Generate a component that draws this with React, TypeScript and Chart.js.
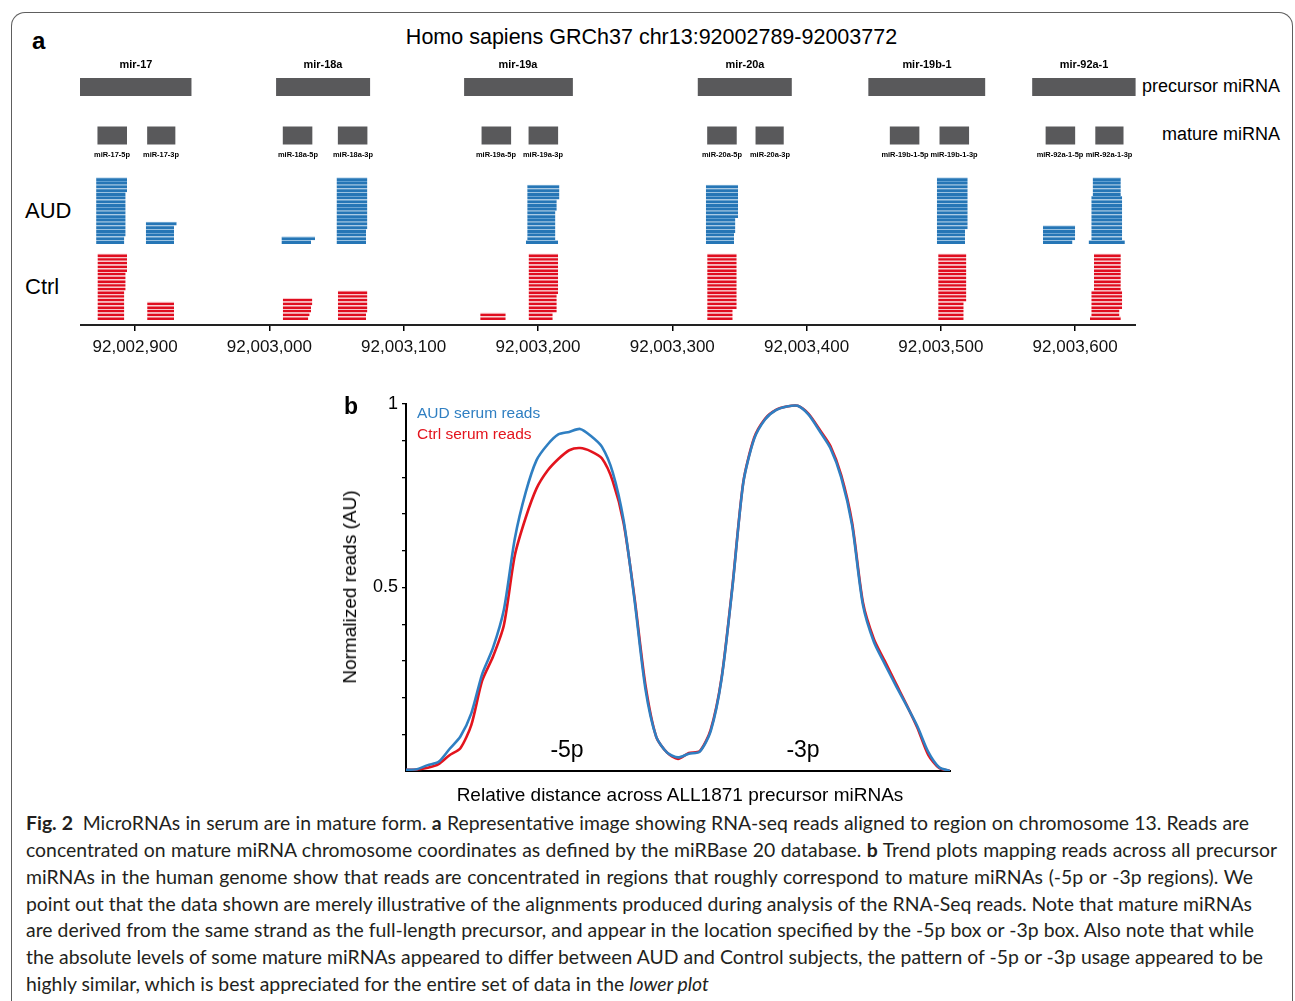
import React, { useEffect, useLayoutEffect, useRef } from 'react';
import { Chart, registerables } from 'chart.js';

Chart.register(...registerables);

const FONT = '"Liberation Sans", Arial, Helvetica, sans-serif';
const CAPTION_FONT = 'Lato, "Open Sans", sans-serif';

// ---------------- Panel a : genome track (chr13) ----------------
const REGION_TITLE = 'Homo sapiens GRCh37 chr13:92002789-92003772';
const AXIS_MIN = 92002859;
const AXIS_MAX = 92003645.3;
const GENOME_TICKS = [92002900, 92003000, 92003100, 92003200, 92003300, 92003400, 92003500, 92003600];

const PRECURSOR_NAMES = ['mir-17', 'mir-18a', 'mir-19a', 'mir-20a', 'mir-19b-1', 'mir-92a-1'];
const PRECURSOR_START = [92002859, 92003005, 92003145, 92003319, 92003446, 92003568];
const PRECURSOR_END = [92002942, 92003075, 92003226, 92003389, 92003533, 92003645];

const MATURE_NAMES = [
  'miR-17-5p', 'miR-17-3p', 'miR-18a-5p', 'miR-18a-3p', 'miR-19a-5p', 'miR-19a-3p',
  'miR-20a-5p', 'miR-20a-3p', 'miR-19b-1-5p', 'miR-19b-1-3p', 'miR-92a-1-5p', 'miR-92a-1-3p',
];
const MATURE_START = [92002872, 92002909, 92003010, 92003051, 92003158, 92003193, 92003326, 92003362, 92003462, 92003499, 92003578, 92003615];
const MATURE_END = [92002894, 92002930, 92003032, 92003073, 92003180, 92003215, 92003348, 92003383, 92003484, 92003521, 92003600, 92003636];

// Reads, listed bottom lane first: [start, end]
const AUD_MIR17_5P = [
  [92002871, 92002892], [92002871, 92002892], [92002871, 92002893], [92002871, 92002893],
  [92002871, 92002893], [92002871, 92002893], [92002871, 92002893], [92002871, 92002893],
  [92002871, 92002893], [92002871, 92002893], [92002871, 92002893], [92002871, 92002893],
  [92002871, 92002893], [92002871, 92002893], [92002871, 92002894], [92002871, 92002894],
  [92002871, 92002894], [92002871, 92002894],
];
const AUD_MIR17_3P = [
  [92002908, 92002929], [92002908, 92002929], [92002908, 92002929], [92002908, 92002929],
  [92002908, 92002929], [92002908, 92002931],
];
const AUD_MIR18A_5P = [[92003009, 92003031], [92003009, 92003034]];
const AUD_MIR18A_3P = [
  [92003050, 92003072], [92003050, 92003072], [92003050, 92003072], [92003050, 92003072],
  [92003050, 92003073], [92003050, 92003073], [92003050, 92003073], [92003050, 92003073],
  [92003050, 92003073], [92003050, 92003073], [92003050, 92003073], [92003050, 92003073],
  [92003050, 92003073], [92003050, 92003073], [92003050, 92003073], [92003050, 92003073],
  [92003050, 92003073], [92003050, 92003073],
];
const AUD_MIR19A_3P = [
  [92003191, 92003215], [92003192, 92003213], [92003192, 92003213], [92003192, 92003213],
  [92003192, 92003213], [92003192, 92003213], [92003192, 92003213], [92003192, 92003213],
  [92003192, 92003213], [92003192, 92003214], [92003192, 92003214], [92003192, 92003214],
  [92003192, 92003216], [92003192, 92003216], [92003192, 92003216], [92003192, 92003216],
];
const AUD_MIR20A_5P = [
  [92003325, 92003346], [92003325, 92003346], [92003325, 92003346], [92003325, 92003347],
  [92003325, 92003347], [92003325, 92003347], [92003325, 92003347], [92003325, 92003349],
  [92003325, 92003349], [92003325, 92003349], [92003325, 92003349], [92003325, 92003349],
  [92003325, 92003349], [92003325, 92003349], [92003325, 92003349], [92003325, 92003349],
];
const AUD_MIR19B1_3P = [
  [92003497, 92003518], [92003497, 92003518], [92003497, 92003518], [92003497, 92003518],
  [92003497, 92003520], [92003497, 92003520], [92003497, 92003520], [92003497, 92003520],
  [92003497, 92003520], [92003497, 92003520], [92003497, 92003520], [92003497, 92003520],
  [92003497, 92003520], [92003497, 92003520], [92003497, 92003520], [92003497, 92003520],
  [92003497, 92003520], [92003497, 92003520],
];
const AUD_MIR92A1_5P = [
  [92003576, 92003598], [92003576, 92003600], [92003576, 92003600], [92003576, 92003600],
  [92003576, 92003600],
];
const AUD_MIR92A1_3P = [
  [92003610, 92003637], [92003612, 92003635], [92003612, 92003635], [92003612, 92003635],
  [92003612, 92003635], [92003612, 92003635], [92003612, 92003635], [92003612, 92003635],
  [92003612, 92003635], [92003612, 92003635], [92003612, 92003635], [92003612, 92003635],
  [92003612, 92003635], [92003613, 92003634], [92003613, 92003634], [92003613, 92003634],
  [92003613, 92003634], [92003613, 92003634],
];

const CTRL_MIR17_5P = [
  [92002872, 92002892], [92002872, 92002892], [92002872, 92002892], [92002872, 92002892],
  [92002872, 92002892], [92002872, 92002892], [92002872, 92002892], [92002872, 92002892],
  [92002872, 92002893], [92002872, 92002893], [92002872, 92002893], [92002872, 92002893],
  [92002872, 92002893], [92002872, 92002894], [92002872, 92002894], [92002872, 92002894],
  [92002872, 92002894], [92002872, 92002894],
];
const CTRL_MIR17_3P = [
  [92002909, 92002929], [92002909, 92002929], [92002909, 92002929], [92002909, 92002929],
  [92002909, 92002929],
];
const CTRL_MIR18A_5P = [
  [92003010, 92003029], [92003010, 92003030], [92003010, 92003031], [92003010, 92003031],
  [92003010, 92003032], [92003010, 92003032],
];
const CTRL_MIR18A_3P = [
  [92003051, 92003072], [92003051, 92003072], [92003051, 92003073], [92003051, 92003073],
  [92003051, 92003073], [92003051, 92003073], [92003051, 92003073], [92003051, 92003073],
];
const CTRL_MIR19A_5P = [[92003157, 92003176], [92003157, 92003176]];
const CTRL_MIR19A_3P = [
  [92003193, 92003211], [92003193, 92003211], [92003193, 92003214], [92003193, 92003214],
  [92003193, 92003214], [92003193, 92003214], [92003193, 92003214], [92003193, 92003215],
  [92003193, 92003215], [92003193, 92003215], [92003193, 92003215], [92003193, 92003215],
  [92003193, 92003215], [92003193, 92003215], [92003193, 92003215], [92003193, 92003215],
  [92003193, 92003215], [92003193, 92003215],
];
const CTRL_MIR20A_5P = [
  [92003326, 92003345], [92003326, 92003345], [92003326, 92003345], [92003326, 92003348],
  [92003326, 92003348], [92003326, 92003348], [92003326, 92003348], [92003326, 92003348],
  [92003326, 92003348], [92003326, 92003348], [92003326, 92003348], [92003326, 92003348],
  [92003326, 92003348], [92003326, 92003348], [92003326, 92003348], [92003326, 92003348],
  [92003326, 92003348], [92003326, 92003348],
];
const CTRL_MIR19B1_3P = [
  [92003498, 92003517], [92003498, 92003517], [92003498, 92003517], [92003498, 92003517],
  [92003498, 92003517], [92003498, 92003519], [92003498, 92003519], [92003498, 92003519],
  [92003498, 92003519], [92003498, 92003519], [92003498, 92003519], [92003498, 92003519],
  [92003498, 92003519], [92003498, 92003519], [92003498, 92003519], [92003498, 92003519],
  [92003498, 92003519], [92003498, 92003519],
];
const CTRL_MIR92A1_3P = [
  [92003611, 92003634], [92003612, 92003633], [92003612, 92003633], [92003612, 92003635],
  [92003612, 92003635], [92003612, 92003635], [92003612, 92003635], [92003612, 92003635],
  [92003614, 92003634], [92003614, 92003634], [92003614, 92003634], [92003614, 92003634],
  [92003614, 92003634], [92003614, 92003634], [92003614, 92003634], [92003614, 92003634],
  [92003614, 92003634], [92003614, 92003634],
];

const AUD_STACKS = [AUD_MIR17_5P, AUD_MIR17_3P, AUD_MIR18A_5P, AUD_MIR18A_3P, AUD_MIR19A_3P, AUD_MIR20A_5P, AUD_MIR19B1_3P, AUD_MIR92A1_5P, AUD_MIR92A1_3P];
const CTRL_STACKS = [CTRL_MIR17_5P, CTRL_MIR17_3P, CTRL_MIR18A_5P, CTRL_MIR18A_3P, CTRL_MIR19A_5P, CTRL_MIR19A_3P, CTRL_MIR20A_5P, CTRL_MIR19B1_3P, CTRL_MIR92A1_3P];

// ---------------- Panel b : trend plot ----------------
const DISTANCE = [0, 2, 4, 6, 8, 10, 12, 14, 16, 18, 20, 22, 24, 26, 28, 30, 32, 34, 36, 38, 40, 42, 44, 46, 48, 50, 52, 54, 56, 58, 60, 62, 64, 66, 68, 70, 72, 74, 76, 78, 80, 82, 84, 86, 88, 90, 92, 94, 96, 98, 100];
const AUD_PROFILE = [0.003, 0.005, 0.016, 0.025, 0.060, 0.094, 0.157, 0.264, 0.336, 0.440, 0.633, 0.759, 0.847, 0.889, 0.917, 0.924, 0.932, 0.913, 0.884, 0.814, 0.683, 0.467, 0.225, 0.093, 0.050, 0.037, 0.047, 0.053, 0.108, 0.250, 0.500, 0.785, 0.905, 0.958, 0.983, 0.993, 0.995, 0.971, 0.927, 0.880, 0.800, 0.670, 0.452, 0.352, 0.292, 0.234, 0.179, 0.122, 0.052, 0.010, 0.000];
const CTRL_PROFILE = [0.003, 0.004, 0.009, 0.019, 0.043, 0.062, 0.125, 0.246, 0.312, 0.398, 0.587, 0.690, 0.770, 0.818, 0.850, 0.874, 0.880, 0.871, 0.852, 0.790, 0.676, 0.473, 0.236, 0.093, 0.050, 0.033, 0.049, 0.054, 0.112, 0.253, 0.503, 0.787, 0.908, 0.960, 0.984, 0.993, 0.995, 0.973, 0.931, 0.886, 0.806, 0.677, 0.459, 0.360, 0.300, 0.240, 0.181, 0.118, 0.044, 0.008, 0.000];
const Y_TICKS = [0.1, 0.2, 0.3, 0.4, 0.5, 0.6, 0.7, 0.8, 0.9, 1];
const Y_TICK_LABELS: Record<string, string> = { '0.5': '0.5', '1': '1' };

// ---------------- layout (not data) ----------------
const A_LEFT = 80, A_TOP = 60, A_WIDTH = 1056, A_HEIGHT = 305, A_PAD_TOP = 10, A_AXIS_H = 40;
const TRACK_RANGE = 255;
const PRE_ROW = 238, MAT_ROW = 189.5, AUD_BASE = 81, CTRL_BASE = 5, LANE = 3.7;
const B_LEFT = 346, B_TOP = 388, B_WIDTH = 608, B_HEIGHT = 399;

const AUD_COLOR = '#2f7fc2';
const CTRL_COLOR = '#e3141d';

const gx = (g: number) => A_LEFT + ((g - AXIS_MIN) / (AXIS_MAX - AXIS_MIN)) * A_WIDTH;

function TrackChart() {
  const ref = useRef<HTMLCanvasElement | null>(null);
  useEffect(() => {
    if (!ref.current) return;
    const common = {
      grouped: false,
      barPercentage: 100,
      categoryPercentage: 1,
      borderSkipped: false,
      inflateAmount: 0,
    };
    const blockSet = (starts: number[], ends: number[], row: number) => ({
      ...common,
      data: starts.map((s, i) => ({ x: [s, ends[i]], y: row })),
      backgroundColor: '#59595b',
      borderWidth: 0,
      barThickness: 18,
      maxBarThickness: 18,
    });
    const readSet = (reads: number[][], base: number, fill: string, sepColor: string, sep: number) => ({
      ...common,
      data: reads.map((r, k) => ({ x: [r[0], r[1]], y: base + LANE * (k + 0.5) })),
      backgroundColor: fill,
      borderColor: sepColor,
      borderWidth: { top: sep, right: 0, bottom: 0, left: 0 },
      barThickness: LANE,
      maxBarThickness: LANE,
    });
    const datasets: any[] = [
      blockSet(PRECURSOR_START, PRECURSOR_END, PRE_ROW),
      blockSet(MATURE_START, MATURE_END, MAT_ROW),
      ...AUD_STACKS.map((s) => readSet(s, AUD_BASE, '#2676b6', '#5f9fd2', 0.8)),
      ...CTRL_STACKS.map((s) => readSet(s, CTRL_BASE, '#e00d1f', '#f8c6ca', 1.2)),
    ];
    const chart = new Chart(ref.current, {
      type: 'bar',
      data: { datasets },
      options: {
        indexAxis: 'y',
        animation: false,
        responsive: false,
        devicePixelRatio: 1,
        layout: { padding: { top: A_PAD_TOP, left: 0, right: 0, bottom: 0 } },
        plugins: { legend: { display: false }, tooltip: { enabled: false } },
        scales: {
          x: {
            type: 'linear',
            position: 'bottom',
            min: AXIS_MIN,
            max: AXIS_MAX,
            afterBuildTicks: (s: any) => { s.ticks = GENOME_TICKS.map((v) => ({ value: v })); },
            afterFit: (s: any) => { s.height = A_AXIS_H; },
            ticks: {
              autoSkip: false,
              maxRotation: 0,
              padding: 6,
              color: '#111',
              font: { family: FONT, size: 17 },
              callback: (v: any) => Number(v).toLocaleString('en-US'),
            },
            grid: { display: true, drawOnChartArea: false, drawTicks: true, tickLength: 6, color: '#000', lineWidth: 1.5 },
            border: { display: true, color: '#222', width: 2 },
          },
          y: {
            type: 'linear',
            display: false,
            min: 0,
            max: TRACK_RANGE,
            offset: false,
            grid: { offset: false },
          },
        },
      } as any,
    });
    return () => chart.destroy();
  }, []);
  return (
    <canvas
      ref={ref}
      width={A_WIDTH}
      height={A_HEIGHT}
      style={{ position: 'absolute', left: A_LEFT, top: A_TOP, width: A_WIDTH, height: A_HEIGHT }}
    />
  );
}

function ProfileChart() {
  const ref = useRef<HTMLCanvasElement | null>(null);
  useEffect(() => {
    if (!ref.current) return;
    const chart = new Chart(ref.current, {
      type: 'line',
      data: {
        datasets: [
          {
            label: 'AUD serum reads',
            data: DISTANCE.map((x, i) => ({ x, y: AUD_PROFILE[i] })),
            borderColor: AUD_COLOR,
            borderWidth: 2.6,
            pointRadius: 0,
            tension: 0.25,
            fill: false,
          },
          {
            label: 'Ctrl serum reads',
            data: DISTANCE.map((x, i) => ({ x, y: CTRL_PROFILE[i] })),
            borderColor: CTRL_COLOR,
            borderWidth: 2.6,
            pointRadius: 0,
            tension: 0.25,
            fill: false,
          },
        ],
      },
      options: {
        animation: false,
        responsive: false,
        devicePixelRatio: 1,
        layout: { padding: { top: 16, right: 4, bottom: 14, left: 0 } },
        plugins: { legend: { display: false }, tooltip: { enabled: false } },
        scales: {
          x: {
            type: 'linear',
            min: 0,
            max: 100,
            ticks: { display: false },
            grid: { display: false, drawTicks: false },
            border: { display: true, color: '#000', width: 2 },
            afterFit: (s: any) => { s.height = 2; },
          },
          y: {
            type: 'linear',
            min: 0,
            max: 1,
            afterBuildTicks: (s: any) => { s.ticks = Y_TICKS.map((v) => ({ value: v })); },
            afterFit: (s: any) => { s.width = 60; },
            ticks: {
              autoSkip: false,
              padding: 4,
              color: '#000',
              font: { family: FONT, size: 18 },
              callback: (v: any) => Y_TICK_LABELS[String(v)] ?? '',
            },
            grid: { display: true, drawOnChartArea: false, drawTicks: true, tickLength: 4, color: '#000', lineWidth: 1.3 },
            border: { display: true, color: '#000', width: 2 },
          },
        },
      } as any,
    });
    return () => chart.destroy();
  }, []);
  return (
    <canvas
      ref={ref}
      width={B_WIDTH}
      height={B_HEIGHT}
      style={{ position: 'absolute', left: B_LEFT, top: B_TOP, width: B_WIDTH, height: B_HEIGHT }}
    />
  );
}

type TP = {
  x: number; y: number; size: number; anchor?: 'left' | 'center' | 'right';
  bold?: boolean; color?: string; family?: string; squeeze?: number; children: React.ReactNode;
};
function T({ x, y, size, anchor = 'left', bold, color = '#000', family = FONT, squeeze = 1, children }: TP) {
  const lh = Math.round(size * 1.3);
  const tx = anchor === 'center' ? 'translateX(-50%)' : anchor === 'right' ? 'translateX(-100%)' : '';
  const sx = squeeze !== 1 ? ` scaleX(${squeeze})` : '';
  const origin = anchor === 'center' ? '50% 50%' : anchor === 'right' ? '100% 50%' : '0 50%';
  return (
    <div
      style={{
        position: 'absolute', left: x, top: y - lh / 2, lineHeight: lh + 'px', fontSize: size,
        fontFamily: family, fontWeight: bold ? 700 : 400, color, whiteSpace: 'nowrap',
        transform: (tx + sx).trim() || 'none', transformOrigin: origin,
      }}
    >
      {children}
    </div>
  );
}

function CaptionLine({ cy, width, children }: { cy: number; width?: number; children: React.ReactNode }) {
  const ref = useRef<HTMLDivElement | null>(null);
  useLayoutEffect(() => {
    const el = ref.current;
    if (!el || !width) return;
    const fit = () => {
      el.style.wordSpacing = '0px';
      const natural = el.getBoundingClientRect().width;
      const spaces = ((el.textContent || '').match(/ /g) || []).length;
      if (spaces) el.style.wordSpacing = (width - natural) / spaces + 'px';
    };
    fit();
    const f = (document as any).fonts;
    if (f && f.ready) f.ready.then(fit);
  }, [width]);
  return (
    <div
      ref={ref}
      style={{
        position: 'absolute', left: 26, top: cy - 13, lineHeight: '26px', fontSize: 19.4,
        fontFamily: CAPTION_FONT, color: '#231f20', whiteSpace: 'nowrap',
      }}
    >
      {children}
    </div>
  );
}

export default function App() {
  return (
    <div
      style={{
        position: 'absolute', left: 0, top: 0, width: 1295, height: 1001, overflow: 'hidden',
        background: '#fff', fontFamily: FONT,
      }}
    >
      <div
        style={{
          position: 'absolute', left: 11, top: 12, width: 1282, height: 1100,
          borderTop: '1.5px solid #5e5e5e', borderLeft: '1.5px solid #5e5e5e', borderRight: '1.5px solid #5e5e5e',
          borderTopLeftRadius: 14, borderTopRightRadius: 14, boxSizing: 'border-box',
        }}
      />
      <TrackChart />
      <ProfileChart />

      {/* panel a texts */}
      <T x={32} y={40} size={24} bold>a</T>
      <T x={651.5} y={37} size={21.5} anchor="center">{REGION_TITLE}</T>
      {PRECURSOR_NAMES.map((n, i) => (
        <T key={n} x={(gx(PRECURSOR_START[i]) + gx(PRECURSOR_END[i])) / 2} y={64.5} size={11.5} bold anchor="center" squeeze={0.95}>{n}</T>
      ))}
      {MATURE_NAMES.map((n, i) => (
        <T key={n} x={(gx(MATURE_START[i]) + gx(MATURE_END[i])) / 2} y={155} size={8} bold anchor="center" squeeze={0.93}>{n}</T>
      ))}
      <T x={1142} y={86} size={18}>precursor miRNA</T>
      <T x={1162} y={134} size={18}>mature miRNA</T>
      <T x={25} y={210} size={22}>AUD</T>
      <T x={25} y={286} size={22}>Ctrl</T>

      {/* panel b texts */}
      <T x={344} y={406} size={23} bold>b</T>
      <T x={417} y={413} size={15.5} color={AUD_COLOR}>AUD serum reads</T>
      <T x={417} y={434} size={15.5} color={CTRL_COLOR}>Ctrl serum reads</T>
      <T x={567} y={749} size={23} anchor="center">-5p</T>
      <T x={803} y={749} size={23} anchor="center">-3p</T>
      <div
        style={{
          position: 'absolute', left: 350, top: 587, transform: 'translate(-50%, -50%) rotate(-90deg)',
          fontSize: 19, fontFamily: FONT, whiteSpace: 'nowrap', lineHeight: '24px', color: '#000',
        }}
      >
        Normalized reads (AU)
      </div>
      <T x={680} y={794} size={19} anchor="center">Relative distance across ALL1871 precursor miRNAs</T>

      {/* caption */}
      <CaptionLine cy={823} width={1223}>
        <b>Fig. 2</b>{'\u2002'}MicroRNAs in serum are in mature form. <b>a</b> Representative image showing RNA-seq reads aligned to region on chromosome 13. Reads are
      </CaptionLine>
      <CaptionLine cy={850} width={1251}>
        concentrated on mature miRNA chromosome coordinates as defined by the miRBase 20 database. <b>b</b> Trend plots mapping reads across all precursor
      </CaptionLine>
      <CaptionLine cy={877} width={1227}>
        miRNAs in the human genome show that reads are concentrated in regions that roughly correspond to mature miRNAs (-5p or -3p regions). We
      </CaptionLine>
      <CaptionLine cy={904} width={1226}>
        point out that the data shown are merely illustrative of the alignments produced during analysis of the RNA-Seq reads. Note that mature miRNAs
      </CaptionLine>
      <CaptionLine cy={930} width={1228}>
        are derived from the same strand as the full-length precursor, and appear in the location specified by the -5p box or -3p box. Also note that while
      </CaptionLine>
      <CaptionLine cy={957} width={1237}>
        the absolute levels of some mature miRNAs appeared to differ between AUD and Control subjects, the pattern of -5p or -3p usage appeared to be
      </CaptionLine>
      <CaptionLine cy={984}>
        highly similar, which is best appreciated for the entire set of data in the <i>lower plot</i>
      </CaptionLine>
    </div>
  );
}
